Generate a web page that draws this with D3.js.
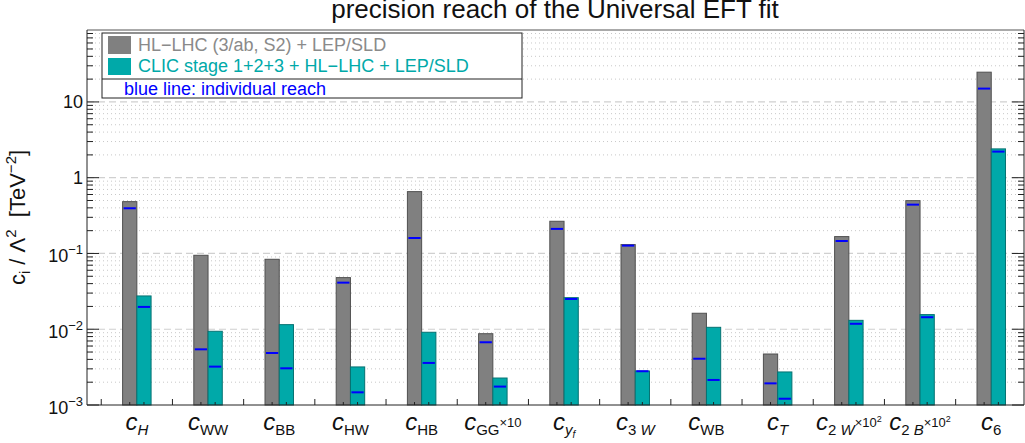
<html>
<head>
    <script src="https://d3js.org/d3.v7.min.js"></script>
</head>
<body style="margin:0;background:white">
    <svg></svg>
    <script>
        // coefficients, in plot order
        const categories = ["cH", "cWW", "cBB", "cHW", "cHB", "cGG", "cyf", "c3W", "cWB", "cT", "c2W", "c2B", "c6"]
        // label pieces: b = base, s = subscript, si = italic subscript, ssi = sub-subscript, x = small superscript, xx = tiny
        const labelParts = [
            [["c", "b"], ["H", "si"]],
            [["c", "b"], ["WW", "s"]],
            [["c", "b"], ["BB", "s"]],
            [["c", "b"], ["HW", "s"]],
            [["c", "b"], ["HB", "s"]],
            [["c", "b"], ["GG", "s"], ["×10", "x"]],
            [["c", "b"], ["y", "si"], ["f", "ssi"]],
            [["c", "b"], ["3 ", "s"], ["W", "si"]],
            [["c", "b"], ["WB", "s"]],
            [["c", "b"], ["T", "si"]],
            [["c", "b"], ["2 ", "s"], ["W", "si"], ["×10", "x"], ["2", "xx"]],
            [["c", "b"], ["2 ", "s"], ["B", "si"], ["×10", "x"], ["2", "xx"]],
            [["c", "b"], ["6", "s"]]
        ]

        // HL-LHC (3/ab, S2) + LEP/SLD : global fit and individual reach
        const hllhc = [0.483, 0.0946, 0.0838, 0.048, 0.655, 0.00873, 0.266, 0.131, 0.01625, 0.00471, 0.167, 0.498, 24.7]
        const hllhcInd = [0.395, 0.00543, 0.00486, 0.0412, 0.160, 0.00673, 0.211, 0.127, 0.00408, 0.00193, 0.146, 0.441, 15.0]
        // CLIC stage 1+2+3 + HL-LHC + LEP/SLD
        const clic = [0.0275, 0.0094, 0.0115, 0.00318, 0.00912, 0.00227, 0.0261, 0.00281, 0.0106, 0.00273, 0.0131, 0.0156, 2.40]
        const clicInd = [0.0197, 0.00321, 0.00305, 0.00147, 0.00359, 0.00175, 0.0251, 0.00279, 0.00214, 0.00121, 0.0118, 0.0144, 2.21]

        const yMajor = [1e-3, 1e-2, 1e-1, 1, 10]
        const yMajorLabels = [["10", "−3"], ["10", "−2"], ["10", "−1"], ["1", ""], ["10", ""]]

        const width = 1025
        const height = 443
        const marginLeft = 87
        const marginRight = 1
        const marginTop = 30
        const marginBottom = 38

        const grayColor = "#808080"
        const tealColor = "#00a9a9"
        const blueColor = "#0000ff"
        const font = "'Liberation Sans', Arial, sans-serif"

        const xScale = d3.scaleLinear([-0.2, 12.96], [marginLeft, width - marginRight])
        const yScale = d3.scaleLog([1e-3, 89], [height - marginBottom, marginTop])
        const binW = xScale(1) - xScale(0)

        const svg = d3.select("svg")
            .attr("width", width)
            .attr("height", height)
            .attr("viewBox", [0, 0, width, height])
            .style("font-family", font)

        const x0 = marginLeft, x1 = width - marginRight
        const yB = height - marginBottom, yT = marginTop

        // minor dotted grid, major dashed grid
        const minorVals = []
        for (let d = -3; d <= 1; d++)
            for (let m = 2; m <= 9; m++) {
                const v = m * Math.pow(10, d)
                if (v < 89) minorVals.push(v)
            }
        svg.append("g").selectAll("line").data(minorVals).join("line")
            .attr("x1", x0).attr("x2", x1)
            .attr("y1", d => yScale(d)).attr("y2", d => yScale(d))
            .attr("stroke", "#c8c8c8").attr("stroke-dasharray", "1,3")
        svg.append("g").selectAll("line").data(yMajor.slice(1)).join("line")
            .attr("x1", x0).attr("x2", x1)
            .attr("y1", d => yScale(d)).attr("y2", d => yScale(d))
            .attr("stroke", "#d0d0d0").attr("stroke-width", 1.2).attr("stroke-dasharray", "7,4")

        // bars
        const I = d3.range(categories.length)
        const bars = svg.append("g")
        bars.selectAll(".hl").data(I).join("rect")
            .attr("x", i => xScale(i + 0.3))
            .attr("width", binW * 0.2)
            .attr("y", i => yScale(hllhc[i]))
            .attr("height", i => yB - yScale(hllhc[i]))
            .attr("fill", grayColor).attr("stroke", "#505050").attr("stroke-width", 1)
        bars.selectAll(".cl").data(I).join("rect")
            .attr("x", i => xScale(i + 0.5))
            .attr("width", binW * 0.2)
            .attr("y", i => yScale(clic[i]))
            .attr("height", i => yB - yScale(clic[i]))
            .attr("fill", tealColor).attr("stroke", "#067272").attr("stroke-width", 1)

        // individual reach markers
        bars.selectAll(".hli").data(I).join("line")
            .attr("x1", i => xScale(i + 0.3) + 1).attr("x2", i => xScale(i + 0.5) - 1)
            .attr("y1", i => yScale(hllhcInd[i])).attr("y2", i => yScale(hllhcInd[i]))
            .attr("stroke", blueColor).attr("stroke-width", 2)
        bars.selectAll(".cli").data(I).join("line")
            .attr("x1", i => xScale(i + 0.5) + 1).attr("x2", i => xScale(i + 0.7) - 1)
            .attr("y1", i => yScale(clicInd[i])).attr("y2", i => yScale(clicInd[i]))
            .attr("stroke", blueColor).attr("stroke-width", 2)

        // frame
        const frame = svg.append("g").attr("stroke", "#222").attr("stroke-width", 1)
        frame.append("line").attr("x1", x0).attr("x2", x1).attr("y1", yB).attr("y2", yB)
        frame.append("line").attr("x1", x0).attr("x2", x1).attr("y1", yT).attr("y2", yT).attr("stroke", "#555")
        frame.append("line").attr("x1", x0).attr("x2", x0).attr("y1", yT).attr("y2", yB)
        frame.append("line").attr("x1", x1).attr("x2", x1).attr("y1", yT).attr("y2", yB)

        // y ticks both sides
        const allMinor = minorVals.filter(v => v > 1e-3)
        ;[[x0, 1], [x1, -1]].forEach(([xa, dir]) => {
            frame.append("g").selectAll("line").data(yMajor).join("line")
                .attr("x1", xa).attr("x2", xa + dir * 12)
                .attr("y1", d => yScale(d)).attr("y2", d => yScale(d))
            frame.append("g").selectAll("line").data(allMinor).join("line")
                .attr("x1", xa).attr("x2", xa + dir * 6)
                .attr("y1", d => yScale(d)).attr("y2", d => yScale(d))
        })

        // x ticks
        frame.append("g").selectAll("line").data(d3.range(0, 13)).join("line")
            .attr("x1", d => xScale(d)).attr("x2", d => xScale(d))
            .attr("y1", yB).attr("y2", yB - 6)
        frame.append("g").selectAll("line").data(I.flatMap(i => [i + 0.4, i + 0.6])).join("line")
            .attr("x1", d => xScale(d)).attr("x2", d => xScale(d))
            .attr("y1", yB).attr("y2", yB - 3)

        // y tick labels
        const yl = svg.append("g").attr("font-size", 18).attr("text-anchor", "end").attr("fill", "#111")
        yMajor.forEach((v, k) => {
            const [base, sup] = yMajorLabels[k]
            const t = yl.append("text").attr("x", 83).attr("y", yScale(v) + (sup ? 9 : 6.5))
            t.append("tspan").text(base)
            if (sup) t.append("tspan").attr("font-size", 13).attr("dy", -8).text(sup)
        })

        // x labels
        const kinds = {
            b: { size: 24, off: 0, italic: true },
            s: { size: 15, off: 5, italic: false },
            si: { size: 15, off: 5, italic: true },
            ssi: { size: 10, off: 8, italic: true },
            x: { size: 13, off: -3, italic: false },
            xx: { size: 9, off: -8, italic: false }
        }
        const xl = svg.append("g").attr("text-anchor", "middle").attr("fill", "#111")
        I.forEach(i => {
            const t = xl.append("text").attr("x", xScale(i + 0.5)).attr("y", 430)
                .style("white-space", "pre")
            let prev = 0
            labelParts[i].forEach(([txt, kind]) => {
                const k = kinds[kind]
                t.append("tspan")
                    .attr("font-size", k.size)
                    .attr("font-style", k.italic ? "italic" : "normal")
                    .attr("dy", k.off - prev)
                    .text(txt)
                prev = k.off
            })
        })

        // y axis title
        const yt = svg.append("text")
            .attr("transform", `translate(25,${(yT + yB) / 2}) rotate(-90)`)
            .attr("text-anchor", "middle").attr("font-size", 22).attr("fill", "#111")
            .style("white-space", "pre")
        yt.append("tspan").text("c")
        yt.append("tspan").attr("font-size", 15).attr("dy", 5).text("i")
        yt.append("tspan").attr("dy", -5).text(" / Λ")
        yt.append("tspan").attr("font-size", 15).attr("dy", -9).text("2")
        yt.append("tspan").attr("dy", 9).text("  [TeV")
        yt.append("tspan").attr("font-size", 15).attr("dy", -9).text("−2")
        yt.append("tspan").attr("dy", 9).text("]")

        // title
        svg.append("text")
            .attr("x", 555).attr("y", 18)
            .attr("text-anchor", "middle").attr("font-size", 26).attr("fill", "#111")
            .text("precision reach of the Universal EFT fit")

        // legend
        const lg = svg.append("g")
        lg.append("rect").attr("x", 102).attr("y", 33).attr("width", 420).attr("height", 65)
            .attr("fill", "white").attr("stroke", "#222")
        lg.append("line").attr("x1", 102).attr("x2", 522).attr("y1", 79).attr("y2", 79).attr("stroke", "#222")
        lg.append("rect").attr("x", 108).attr("y", 36).attr("width", 23).attr("height", 18).attr("fill", grayColor)
        lg.append("rect").attr("x", 108).attr("y", 58).attr("width", 23).attr("height", 17).attr("fill", tealColor)
        lg.append("text").attr("x", 138).attr("y", 51).attr("font-size", 18).attr("fill", "#8a8a8a")
            .text("HL−LHC (3/ab, S2) + LEP/SLD")
        lg.append("text").attr("x", 138).attr("y", 72).attr("font-size", 18).attr("fill", tealColor)
            .text("CLIC stage 1+2+3 + HL−LHC + LEP/SLD")
        lg.append("text").attr("x", 124).attr("y", 95).attr("font-size", 18).attr("fill", blueColor)
            .text("blue line: individual reach")
    </script>
</body>
</html>
